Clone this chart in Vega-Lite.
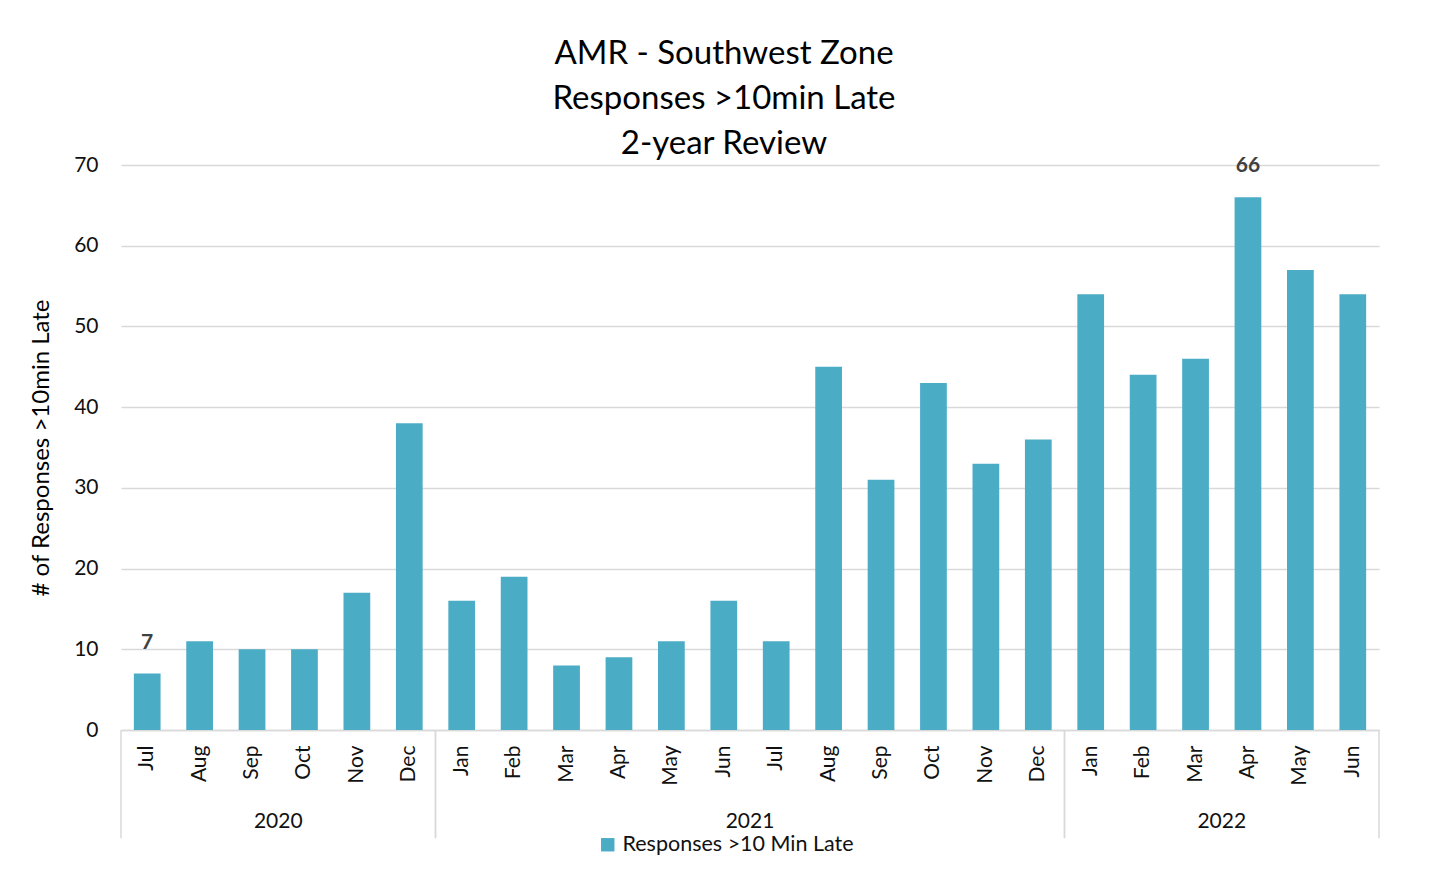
{
  "$schema": "https://vega.github.io/schema/vega-lite/v6.json",
  "autosize": "none",
  "width": 1258,
  "height": 565,
  "padding": {"left": 121, "top": 165, "right": 70, "bottom": 148},
  "background": "white",
  "config": {
    "view": {"stroke": null},
    "font": "Lato",
    "axis": {"labelFont": "Lato", "titleFont": "Lato"},
    "legend": {"labelFont": "Lato"}
  },
  "title": {
    "text": ["AMR - Southwest Zone", "Responses >10min Late", "2-year Review"],
    "fontSize": 33,
    "fontWeight": "normal",
    "font": "Lato",
    "color": "#000000",
    "lineHeight": 45,
    "anchor": "middle",
    "dx": -26,
    "offset": -7
  },
  "datasets": {
    "monthly": [
      {"key": "2020-Jul", "year": "2020", "month": "Jul", "value": 7},
      {"key": "2020-Aug", "year": "2020", "month": "Aug", "value": 11},
      {"key": "2020-Sep", "year": "2020", "month": "Sep", "value": 10},
      {"key": "2020-Oct", "year": "2020", "month": "Oct", "value": 10},
      {"key": "2020-Nov", "year": "2020", "month": "Nov", "value": 17},
      {"key": "2020-Dec", "year": "2020", "month": "Dec", "value": 38},
      {"key": "2021-Jan", "year": "2021", "month": "Jan", "value": 16},
      {"key": "2021-Feb", "year": "2021", "month": "Feb", "value": 19},
      {"key": "2021-Mar", "year": "2021", "month": "Mar", "value": 8},
      {"key": "2021-Apr", "year": "2021", "month": "Apr", "value": 9},
      {"key": "2021-May", "year": "2021", "month": "May", "value": 11},
      {"key": "2021-Jun", "year": "2021", "month": "Jun", "value": 16},
      {"key": "2021-Jul", "year": "2021", "month": "Jul", "value": 11},
      {"key": "2021-Aug", "year": "2021", "month": "Aug", "value": 45},
      {"key": "2021-Sep", "year": "2021", "month": "Sep", "value": 31},
      {"key": "2021-Oct", "year": "2021", "month": "Oct", "value": 43},
      {"key": "2021-Nov", "year": "2021", "month": "Nov", "value": 33},
      {"key": "2021-Dec", "year": "2021", "month": "Dec", "value": 36},
      {"key": "2022-Jan", "year": "2022", "month": "Jan", "value": 54},
      {"key": "2022-Feb", "year": "2022", "month": "Feb", "value": 44},
      {"key": "2022-Mar", "year": "2022", "month": "Mar", "value": 46},
      {"key": "2022-Apr", "year": "2022", "month": "Apr", "value": 66},
      {"key": "2022-May", "year": "2022", "month": "May", "value": 57},
      {"key": "2022-Jun", "year": "2022", "month": "Jun", "value": 54}
    ],
    "years": [
      {"year": "2020", "first": "2020-Jul", "last": "2020-Dec", "mid": "2020-Sep"},
      {"year": "2021", "first": "2021-Jan", "last": "2021-Dec", "mid": "2021-Jun"},
      {"year": "2022", "first": "2022-Jan", "last": "2022-Jun", "mid": "2022-Mar"}
    ]
  },
  "layer": [
    {
      "data": {"name": "monthly"},
      "mark": {"type": "bar", "width": {"band": 0.51}},
      "encoding": {
        "x": {
          "field": "key",
          "type": "nominal",
          "sort": null,
          "scale": {"paddingInner": 0, "paddingOuter": 0},
          "axis": {
            "title": null,
            "labelExpr": "split(datum.value, '-')[1]",
            "labelAngle": -90,
            "labelFontSize": 21,
            "labelColor": "#111111",
            "labelPadding": 15,
            "ticks": false,
            "domainColor": "#d9d9d9",
            "domainWidth": 1.5,
            "grid": false
          }
        },
        "y": {
          "field": "value",
          "type": "quantitative",
          "scale": {"domain": [0, 70], "nice": false, "zero": true},
          "axis": {
            "title": "# of Responses >10min Late",
            "titleFontSize": 24,
            "titleFontWeight": "normal",
            "titleColor": "#000000",
            "titlePadding": 20,
            "values": [0, 10, 20, 30, 40, 50, 60, 70],
            "labelFontSize": 21,
            "labelColor": "#111111",
            "labelPadding": 23,
            "ticks": false,
            "domain": false,
            "gridColor": "#d9d9d9",
            "gridWidth": 1.5
          }
        },
        "color": {
          "datum": "Responses >10 Min Late",
          "type": "nominal",
          "scale": {"range": ["#4BACC6"]},
          "legend": {
            "title": null,
            "orient": "none",
            "legendX": 476,
            "legendY": 669,
            "symbolType": "square",
            "symbolSize": 180,
            "symbolStrokeWidth": 0,
            "labelFontSize": 21.5,
            "labelLimit": 0,
            "labelColor": "#111111",
            "labelOffset": 4
          }
        }
      }
    },
    {
      "data": {"name": "monthly"},
      "transform": [{"filter": "datum.key == '2020-Jul' || datum.key == '2022-Apr'"}],
      "mark": {"type": "text", "fontSize": 21, "fontWeight": "bold", "color": "#404040", "baseline": "middle", "dy": -31},
      "encoding": {
        "x": {"field": "key", "type": "nominal", "sort": null},
        "y": {"field": "value", "type": "quantitative"},
        "text": {"field": "value", "type": "quantitative"}
      }
    },
    {
      "data": {"name": "years"},
      "mark": {"type": "rule", "color": "#d9d9d9", "strokeWidth": 1.5},
      "encoding": {
        "x": {"field": "first", "type": "nominal", "sort": null, "bandPosition": 0},
        "y": {"datum": 0},
        "y2": {"datum": -13.4}
      }
    },
    {
      "data": {"name": "years"},
      "mark": {"type": "rule", "color": "#d9d9d9", "strokeWidth": 1.5},
      "encoding": {
        "x": {"field": "last", "type": "nominal", "sort": null, "bandPosition": 1},
        "y": {"datum": 0},
        "y2": {"datum": -13.4}
      }
    },
    {
      "data": {"name": "years"},
      "mark": {"type": "text", "fontSize": 21, "color": "#111111", "baseline": "middle"},
      "encoding": {
        "x": {"field": "mid", "type": "nominal", "sort": null, "bandPosition": 1},
        "y": {"datum": -11.4},
        "text": {"field": "year", "type": "nominal"}
      }
    }
  ]
}
